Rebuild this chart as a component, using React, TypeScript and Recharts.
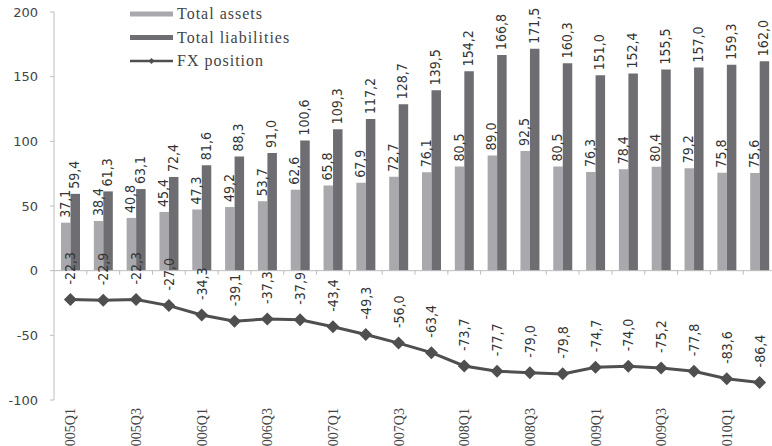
import React from "react";
import {
  Bar,
  ComposedChart,
  LabelList,
  Legend,
  Line,
  ReferenceLine,
  XAxis,
  YAxis,
} from "recharts";

const quarters = [
  "2005Q1", "2005Q2", "2005Q3", "2005Q4",
  "2006Q1", "2006Q2", "2006Q3", "2006Q4",
  "2007Q1", "2007Q2", "2007Q3", "2007Q4",
  "2008Q1", "2008Q2", "2008Q3", "2008Q4",
  "2009Q1", "2009Q2", "2009Q3", "2009Q4",
  "2010Q1", "2010Q2",
];

const totalAssets = [
  37.1, 38.4, 40.8, 45.4, 47.3, 49.2, 53.7, 62.6, 65.8, 67.9, 72.7,
  76.1, 80.5, 89.0, 92.5, 80.5, 76.3, 78.4, 80.4, 79.2, 75.8, 75.6,
];

const totalLiabilities = [
  59.4, 61.3, 63.1, 72.4, 81.6, 88.3, 91.0, 100.6, 109.3, 117.2, 128.7,
  139.5, 154.2, 166.8, 171.5, 160.3, 151.0, 152.4, 155.5, 157.0, 159.3, 162.0,
];

const fxPosition = [
  -22.3, -22.9, -22.3, -27.0, -34.3, -39.1, -37.3, -37.9, -43.4, -49.3, -56.0,
  -63.4, -73.7, -77.7, -79.0, -79.8, -74.7, -74.0, -75.2, -77.8, -83.6, -86.4,
];

const yTicks = [-100, -50, 0, 50, 100, 150, 200];

const data = quarters.map((q, i) => ({
  q,
  assets: totalAssets[i],
  liabilities: totalLiabilities[i],
  fx: fxPosition[i],
}));

const ASSETS = "#a9a9ad";
const LIABS = "#6e6e72";
const LINE = "#4f4f4f";
const AXIS = "#bdbdbd";
const labelFont = "'Liberation Sans Narrow', 'DejaVu Sans Condensed', 'Arial Narrow', sans-serif";
const serifFont = "'Liberation Serif', 'DejaVu Serif', serif";

const fmt = (v: number) => v.toFixed(1).replace(".", ",");

function barLabel(props: any) {
  const { x, y, width, value } = props;
  return (
    <text
      transform={`translate(${x + width / 2 + 4}, ${y - 5}) rotate(-90)`}
      textAnchor="start"
      fontFamily={labelFont}
      fontSize={14}
      fill="#333"
    >
      {fmt(Number(value))}
    </text>
  );
}

function lineLabel(props: any) {
  const { x, y, value } = props;
  return (
    <text
      transform={`translate(${x + 5}, ${y - 15}) rotate(-90)`}
      textAnchor="start"
      fontFamily={labelFont}
      fontSize={14}
      fill="#333"
    >
      {fmt(Number(value))}
    </text>
  );
}

function Diamond(props: any) {
  const { cx, cy } = props;
  if (cx == null || cy == null) return null;
  const r = 6.5;
  return (
    <polygon
      points={`${cx},${cy - r} ${cx + r},${cy} ${cx},${cy + r} ${cx - r},${cy}`}
      fill={LINE}
    />
  );
}

function QuarterTick(props: any) {
  const { x, y, payload } = props;
  return (
    <text
      transform={`translate(${x + 5}, ${y}) rotate(-90)`}
      textAnchor="end"
      fontFamily={serifFont}
      fontSize={14}
      fill="#444"
    >
      {payload.value}
    </text>
  );
}

// zero line with small tick marks on the category boundaries
function ZeroAxis(props: any) {
  const { x1, y1, x2 } = props;
  const step = (x2 - x1) / quarters.length;
  return (
    <g>
      <line x1={x1} y1={y1} x2={x2} y2={y1} stroke={AXIS} strokeWidth={1} />
      {quarters.map((q, i) => (
        <line
          key={q}
          x1={x1 + step * (i + 1)}
          x2={x1 + step * (i + 1)}
          y1={y1}
          y2={y1 + 4}
          stroke={AXIS}
        />
      ))}
    </g>
  );
}

function ChartLegend() {
  const rows = [
    { name: "Total assets", color: ASSETS, kind: "bar" },
    { name: "Total liabilities", color: LIABS, kind: "bar" },
    { name: "FX position", color: LINE, kind: "line" },
  ];
  return (
    <svg width={170} height={72}>
      {rows.map((r, i) => {
        const cy = 11 + i * 23.5;
        return (
          <g key={r.name}>
            {r.kind === "bar" ? (
              <rect x={0} y={cy - 2.5} width={43} height={5} fill={r.color} />
            ) : (
              <g>
                <line x1={0} x2={43} y1={cy} y2={cy} stroke={r.color} strokeWidth={2.5} />
                <polygon
                  points={`21.5,${cy - 3} 24.5,${cy} 21.5,${cy + 3} 18.5,${cy}`}
                  fill={r.color}
                />
              </g>
            )}
            <text
              x={47}
              y={cy + 5}
              fontFamily={serifFont}
              fontSize={16}
              letterSpacing={1}
              fill="#444"
            >
              {r.name}
            </text>
          </g>
        );
      })}
    </svg>
  );
}

export default function App() {
  return (
    <div
      style={{
        position: "absolute",
        left: 0,
        top: 0,
        width: 772,
        height: 446,
        overflow: "hidden",
        background: "#fff",
      }}
    >
      <ComposedChart
        width={776}
        height={446}
        data={data}
        margin={{ top: 12, right: 0, left: 0, bottom: 0 }}
        barGap={0}
      >
        <XAxis
          dataKey="q"
          interval={1}
          axisLine={false}
          tickLine={false}
          height={46}
          tick={<QuarterTick />}
        />
        <YAxis
          domain={[-100, 200]}
          ticks={yTicks}
          width={54}
          axisLine={{ stroke: AXIS }}
          tickLine={{ stroke: AXIS }}
          tickSize={4}
          tickMargin={12}
          tick={{ fill: "#444", fontSize: 13, fontFamily: "'DejaVu Sans', Verdana, sans-serif" }}
        />
        <ReferenceLine y={0} shape={<ZeroAxis />} />
        <Legend
          layout="vertical"
          align="center"
          verticalAlign="middle"
          wrapperStyle={{ left: 130, top: 3 }}
          content={<ChartLegend />}
        />
        <Bar dataKey="assets" fill={ASSETS} barSize={9.5} isAnimationActive={false}>
          <LabelList dataKey="assets" content={barLabel} />
        </Bar>
        <Bar dataKey="liabilities" fill={LIABS} barSize={9.5} isAnimationActive={false}>
          <LabelList dataKey="liabilities" content={barLabel} />
        </Bar>
        <Line
          dataKey="fx"
          stroke={LINE}
          strokeWidth={3}
          dot={<Diamond />}
          activeDot={false}
          isAnimationActive={false}
        >
          <LabelList dataKey="fx" content={lineLabel} />
        </Line>
      </ComposedChart>
    </div>
  );
}
